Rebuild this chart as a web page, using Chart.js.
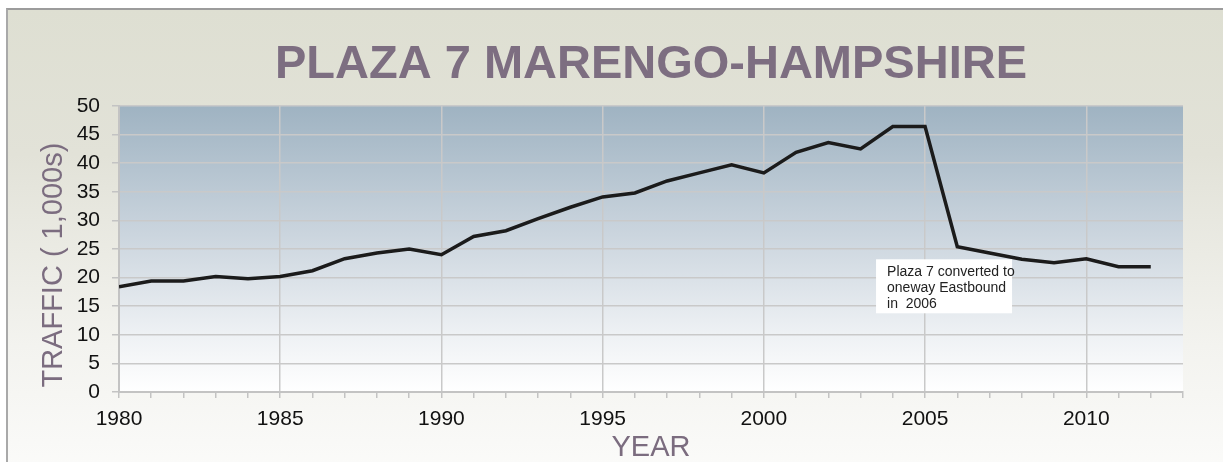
<!DOCTYPE html>
<html>
<head>
<meta charset="utf-8">
<script src="https://cdn.jsdelivr.net/npm/chart.js@4/dist/chart.umd.min.js"></script>
<style>
html,body{margin:0;padding:0;background:#ffffff;overflow:hidden;}
#wrap{position:relative;width:1223px;height:462px;overflow:hidden;}
#bg{position:absolute;left:6px;top:8px;width:1240px;height:480px;border-top:2px solid #9c9c9c;border-left:2px solid #a9a9a9;
  background:linear-gradient(#dedfd2 0%,#e2e2d8 30%,#f3f3ef 70%,#fcfcfb 100%);}
#c{position:absolute;left:0;top:0;}
</style>
</head>
<body>
<div id="wrap"><div id="bg"></div><canvas id="c" width="1223" height="462"></canvas></div>
<script>
// ---- data ----
const years = [1980,1981,1982,1983,1984,1985,1986,1987,1988,1989,1990,1991,1992,1993,1994,1995,1996,1997,1998,1999,2000,2001,2002,2003,2004,2005,2006,2007,2008,2009,2010,2011,2012];
const traffic = [18.4,19.4,19.4,20.2,19.8,20.2,21.2,23.3,24.3,25.0,24.0,27.2,28.2,30.3,32.3,34.1,34.8,36.9,38.3,39.7,38.3,41.9,43.6,42.5,46.4,46.4,25.4,24.3,23.2,22.6,23.3,21.9,21.9];
const chartTitle = 'PLAZA 7 MARENGO-HAMPSHIRE';
const xAxisTitle = 'YEAR';
const yAxisTitle = 'TRAFFIC ( 1,000s)';
const xRange = [1980, 2013];
const yRange = [0, 50];
const noteLines = ['Plaza 7 converted to', 'oneway Eastbound', 'in  2006'];
const noteAnchor = {x: 2003.48, y: 23.2};

// ---- styling / layout ----
Chart.defaults.font.family = '"Liberation Sans", Arial, sans-serif';

const plotBackground = {
  id: 'plotBackground',
  beforeDraw(chart) {
    const {ctx, chartArea: a} = chart;
    const g = ctx.createLinearGradient(0, a.top, 0, a.bottom);
    g.addColorStop(0, '#9fb3c2');
    g.addColorStop(0.45, '#cbd5de');
    g.addColorStop(0.8, '#eef1f4');
    g.addColorStop(1, '#ffffff');
    ctx.save();
    ctx.fillStyle = g;
    ctx.fillRect(a.left, a.top, a.right - a.left, a.bottom - a.top);
    ctx.restore();
  }
};

const noteBox = {
  id: 'noteBox',
  afterDatasetsDraw(chart) {
    const {ctx, scales: {x, y}} = chart;
    const left = x.getPixelForValue(noteAnchor.x);
    const top = y.getPixelForValue(noteAnchor.y);
    ctx.save();
    ctx.fillStyle = '#ffffff';
    ctx.fillRect(left, top, 136, 54);
    ctx.fillStyle = '#222222';
    ctx.font = '14px "Liberation Sans", Arial, sans-serif';
    ctx.textBaseline = 'middle';
    noteLines.forEach((t, i) => ctx.fillText(t, left + 11, top + 13 + i * 16));
    ctx.restore();
  }
};

new Chart(document.getElementById('c'), {
  type: 'line',
  data: {
    datasets: [{
      data: years.map((yr, i) => ({x: yr, y: traffic[i]})),
      borderColor: '#1b1b1b',
      borderWidth: 3.5,
      pointRadius: 0,
      tension: 0,
      fill: false
    }]
  },
  options: {
    responsive: false,
    animation: false,
    layout: {padding: {left: 0, right: 40, top: 0, bottom: 0}},
    plugins: {
      legend: {display: false},
      tooltip: {enabled: false},
      title: {
        display: true,
        fullSize: false,
        text: chartTitle,
        color: '#7d6e81',
        font: {family: '"Liberation Sans", Arial, sans-serif', size: 47, weight: 'bold', lineHeight: 1},
        padding: {top: 42, bottom: 17}
      }
    },
    scales: {
      x: {
        type: 'linear',
        min: xRange[0],
        max: xRange[1],
        afterFit: s => { s.height = 70; },
        border: {color: '#c3c3c3', width: 2},
        grid: {
          color: c => (c.tick && c.tick.value % 5 === 0) ? '#c9c9c9' : 'rgba(0,0,0,0)',
          lineWidth: 1.5,
          tickColor: '#c3c3c3',
          tickLength: 6,
          tickWidth: 1.5
        },
        ticks: {
          stepSize: 1,
          maxTicksLimit: 100,
          autoSkip: false,
          maxRotation: 0,
          padding: 9,
          color: '#111111',
          font: {size: 21},
          callback: v => (v % 5 === 0 ? String(v) : '')
        },
        title: {
          display: true,
          text: xAxisTitle,
          color: '#7b6c7f',
          font: {size: 29, lineHeight: 1},
          padding: {top: 0, bottom: 0}
        }
      },
      y: {
        min: yRange[0],
        max: yRange[1],
        afterFit: s => { s.width = 119; },
        border: {color: '#c3c3c3', width: 2},
        grid: {color: '#c9c9c9', lineWidth: 1.5, tickColor: '#c3c3c3', tickLength: 7},
        ticks: {stepSize: 5, padding: 12, color: '#111111', font: {size: 21}},
        title: {
          display: true,
          text: yAxisTitle + '    ',
          color: '#7b6c7f',
          font: {size: 29, lineHeight: 1},
          padding: {top: 39, bottom: 0}
        }
      }
    }
  },
  plugins: [plotBackground, noteBox]
});
</script>
</body>
</html>
